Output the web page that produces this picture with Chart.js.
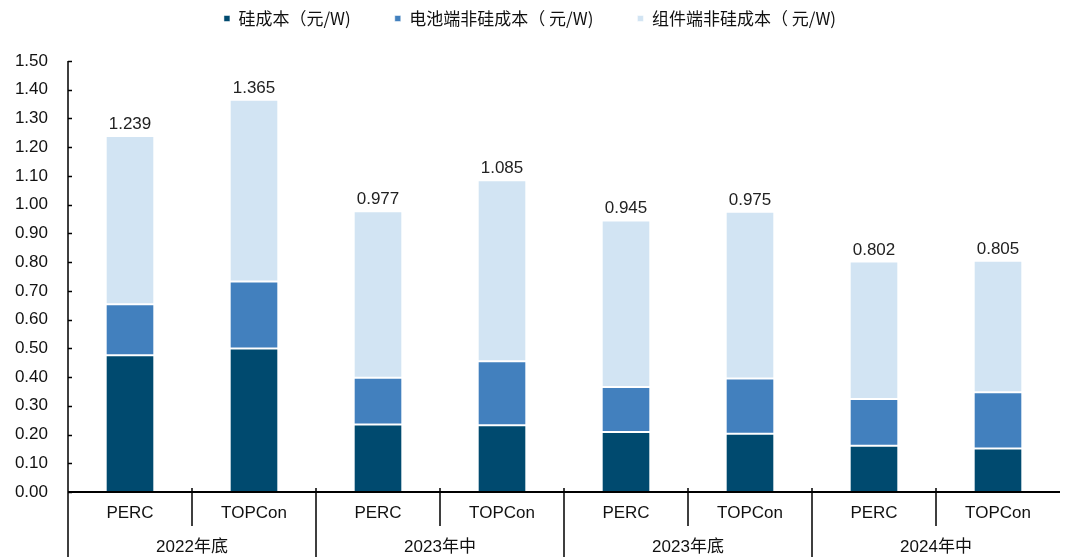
<!DOCTYPE html>
<html>
<head>
<meta charset="utf-8">
<script src="https://cdn.jsdelivr.net/npm/chart.js@4.4.1/dist/chart.umd.min.js"></script>
<style>
  html, body { margin: 0; padding: 0; background: #fff; }
  #c { display: block; }
</style>
</head>
<body>
<canvas id="c" width="1067" height="557"></canvas>
<script>
// 各技术路线的成本拆分（元/W）
const techs = ["PERC", "TOPCon", "PERC", "TOPCon", "PERC", "TOPCon", "PERC", "TOPCon"];
const periods = ["2022年底", "2023年中", "2023年底", "2024年中"];

const siliconCost = [0.476, 0.499, 0.235, 0.232, 0.209, 0.203, 0.161, 0.151];
const cellNonSiCost = [0.177, 0.234, 0.163, 0.223, 0.156, 0.192, 0.163, 0.196];
const moduleNonSiCost = [0.586, 0.632, 0.579, 0.630, 0.580, 0.580, 0.478, 0.458];

const yTicksMax = 1.5;
const yTickStep = 0.1;

const FONT = '"Liberation Sans", Arial, "Noto Sans CJK SC", sans-serif';
const CJK_FONT = '"Noto Sans CJK SC", "Liberation Sans", sans-serif';

// 柱顶总成本标注 + 分组坐标轴
const costAxisPlugin = {
  id: 'costAxis',
  afterDatasetsDraw(chart) {
    const ctx = chart.ctx;
    const meta = chart.getDatasetMeta(2);
    ctx.save();
    ctx.font = '17px ' + FONT;
    ctx.fillStyle = '#222';
    ctx.textAlign = 'center';
    ctx.textBaseline = 'alphabetic';
    meta.data.forEach((bar, i) => {
      const total = siliconCost[i] + cellNonSiCost[i] + moduleNonSiCost[i];
      ctx.fillText(total.toFixed(3), bar.x, bar.y - 7);
    });
    ctx.restore();
  },
  afterDraw(chart) {
    const ctx = chart.ctx;
    const x = chart.scales.x, y = chart.scales.y;
    const axisY = y.getPixelForValue(0);
    const left = chart.chartArea.left;
    ctx.save();
    ctx.strokeStyle = '#000';

    // y 轴及向内刻度
    ctx.lineWidth = 1.5;
    ctx.beginPath();
    ctx.moveTo(left, y.getPixelForValue(yTicksMax));
    ctx.lineTo(left, chart.height);
    for (let v = 0; v <= yTicksMax + 1e-9; v += yTickStep) {
      const py = Math.round(y.getPixelForValue(v)) + 0.5;
      ctx.moveTo(left, py);
      ctx.lineTo(left + 4, py);
    }
    ctx.stroke();

    // 类别分隔线：组内短线，组间通到底
    ctx.beginPath();
    for (let i = 1; i < techs.length; i++) {
      const px = Math.round((x.getPixelForValue(i - 1) + x.getPixelForValue(i)) / 2);
      ctx.moveTo(px, axisY - 4);
      ctx.lineTo(px, i % 2 === 0 ? chart.height : axisY + 34);
    }
    ctx.stroke();

    // x 轴
    ctx.lineWidth = 2;
    ctx.beginPath();
    ctx.moveTo(left, axisY);
    ctx.lineTo(chart.chartArea.right, axisY);
    ctx.stroke();

    // 时间分组标签
    ctx.font = '17px ' + FONT;
    ctx.fillStyle = '#111';
    ctx.textAlign = 'center';
    ctx.textBaseline = 'middle';
    periods.forEach((p, g) => {
      const cx = (x.getPixelForValue(g * 2) + x.getPixelForValue(g * 2 + 1)) / 2;
      ctx.fillText(p, cx, 547);
    });
    ctx.restore();
  }
};

const barStyle = {
  borderColor: '#fff',
  borderWidth: { top: 1, bottom: 1, left: 0, right: 0 },
  borderSkipped: false,
  barPercentage: 0.38,
  categoryPercentage: 1.0
};

new Chart(document.getElementById('c'), {
  type: 'bar',
  data: {
    labels: techs,
    datasets: [
      // 图例项之间留宽一些，用全角空格撑开
      Object.assign({ label: '硅成本（元/W)\u3000\u3000', data: siliconCost, backgroundColor: '#004a6f' }, barStyle),
      Object.assign({ label: '电池端非硅成本（ 元/W)\u3000\u3000', data: cellNonSiCost, backgroundColor: '#4280be' }, barStyle),
      Object.assign({ label: '组件端非硅成本（ 元/W)', data: moduleNonSiCost, backgroundColor: '#d2e4f3' }, barStyle)
    ]
  },
  options: {
    responsive: false,
    animation: false,
    layout: { padding: { left: 0, right: 7, top: 0, bottom: 0 } },
    plugins: {
      tooltip: { enabled: false },
      legend: {
        position: 'top',
        labels: {
          boxWidth: 6,
          boxHeight: 6,
          padding: 10,
          color: '#111',
          font: { size: 17, family: CJK_FONT }
        }
      },
      // 图例与绘图区之间的空白
      title: {
        display: true,
        text: ' ',
        weight: 500,
        font: { size: 10 },
        padding: { top: 0, bottom: 12 }
      }
    },
    scales: {
      x: {
        stacked: true,
        grid: { display: false, drawTicks: false },
        border: { display: false },
        ticks: { color: '#111', padding: 11, font: { size: 17, family: FONT } },
        afterFit(scale) { scale.height = 65; }
      },
      y: {
        stacked: true,
        min: 0,
        max: yTicksMax,
        grid: { display: false, drawTicks: false },
        border: { display: false },
        ticks: {
          stepSize: yTickStep,
          padding: 20,
          color: '#111',
          font: { size: 17, family: FONT },
          callback: (v) => v.toFixed(2)
        },
        afterFit(scale) { scale.width = 68; }
      }
    }
  },
  plugins: [costAxisPlugin]
});
</script>
</body>
</html>
